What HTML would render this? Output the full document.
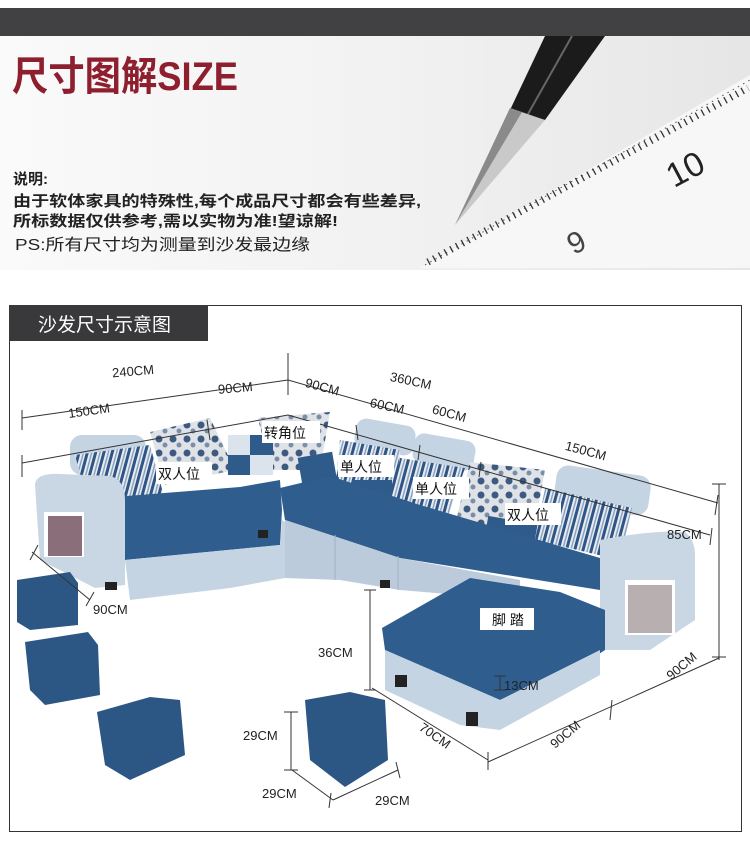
<!DOCTYPE html>
<html><head><meta charset="utf-8"><style>
body{margin:0;width:750px;height:847px;background:#fff;overflow:hidden;font-family:"Liberation Sans","Noto Sans CJK SC",sans-serif;}
svg{display:block}
text{font-family:"Liberation Sans","Noto Sans CJK SC",sans-serif;}
</style></head><body>
<svg width="750" height="847" viewBox="0 0 750 847" xmlns="http://www.w3.org/2000/svg">
<defs>
<linearGradient id="hg" x1="0" y1="0" x2="1" y2="0"><stop offset="0" stop-color="#fafafa"/><stop offset="0.55" stop-color="#f1f1f1"/><stop offset="1" stop-color="#e6e6e6"/></linearGradient>
<pattern id="st" width="8" height="8" patternUnits="userSpaceOnUse" patternTransform="rotate(15)"><rect width="8" height="8" fill="#e8ecf2"/><rect width="3" height="8" fill="#2f5585"/><rect x="5" width="1.5" height="8" fill="#8aa3c0"/></pattern>
<pattern id="fl" width="14" height="14" patternUnits="userSpaceOnUse"><rect width="14" height="14" fill="#dfe3e8"/><circle cx="5" cy="5" r="3.5" fill="#3d5a80"/><circle cx="11" cy="11" r="2.5" fill="#7b8ea8"/></pattern>
</defs>
<rect x="0" y="8" width="750" height="28" fill="#414042"/>
<rect x="0" y="36" width="750" height="234" fill="url(#hg)"/>
<text x="12" y="90" font-size="40" fill="#8e1f2e" font-weight="bold" textLength="226" lengthAdjust="spacingAndGlyphs">尺寸图解SIZE</text>
<text x="13" y="184" font-size="15" fill="#222" font-weight="bold">说明:</text>
<text x="13" y="206" font-size="15" fill="#222" font-weight="bold" textLength="408" lengthAdjust="spacingAndGlyphs">由于软体家具的特殊性,每个成品尺寸都会有些差异,</text>
<text x="13" y="226" font-size="15" fill="#222" font-weight="bold" textLength="325" lengthAdjust="spacingAndGlyphs">所标数据仅供参考,需以实物为准!望谅解!</text>
<text x="15" y="250" font-size="16" fill="#222" textLength="295" lengthAdjust="spacingAndGlyphs">PS:所有尺寸均为测量到沙发最边缘</text>
<!-- ruler -->
<polygon points="420,268 750,75 750,268" fill="#f7f7f7"/>
<line x1="425" y1="265" x2="750" y2="80" stroke="#555" stroke-width="1" stroke-dasharray="1.5,4.5"/>
<line x1="428" y1="262" x2="748" y2="88" stroke="#333" stroke-width="7" stroke-dasharray="1.3,5.2"/>
<text x="665" y="178" font-size="34" fill="#222" transform="rotate(-28 690 165)">10</text>
<text x="565" y="250" font-size="30" fill="#444" transform="rotate(-28 580 235)">9</text>
<!-- pencil -->
<polygon points="545,36 605,36 545,120 510,110" fill="#1b1b1b"/>
<polygon points="510,108 545,120 455,225" fill="#c9c9c9"/>
<polygon points="510,108 522,112 455,225" fill="#8a8a8a"/>
<line x1="572" y1="36" x2="528" y2="114" stroke="#666" stroke-width="2"/>
<!-- box -->
<rect x="9.5" y="305.5" width="732" height="526" fill="none" stroke="#333" stroke-width="1"/>
<rect x="9" y="305" width="199" height="36" fill="#39383a"/>
<text x="38" y="331" font-size="19" fill="#fff">沙发尺寸示意图</text>
<!-- sofa back/pillows -->
<rect x="70" y="435" width="76" height="40" rx="12" fill="#c5d4e3"/>
<rect x="355" y="422" width="60" height="30" rx="10" fill="#c5d4e3" transform="rotate(10 385 437)"/>
<rect x="413" y="437" width="62" height="30" rx="10" fill="#c5d4e3" transform="rotate(10 444 452)"/>
<rect x="555" y="470" width="95" height="40" rx="12" fill="#c5d4e3" transform="rotate(8 600 490)"/>
<polygon points="150,432 210,418 235,470 165,485" fill="url(#fl)"/>
<polygon points="258,418 330,412 320,470 270,470" fill="url(#fl)"/>
<polygon points="470,462 545,470 535,525 455,525" fill="url(#fl)"/>
<polygon points="75,455 150,445 165,500 90,510" fill="url(#st)"/>
<polygon points="340,440 400,450 395,505 335,490" fill="url(#st)"/>
<polygon points="400,458 465,468 445,525 390,505" fill="url(#st)"/>
<polygon points="545,488 632,508 620,560 535,540" fill="url(#st)"/>
<rect x="228" y="435" width="45" height="40" fill="#2f5b8b"/>
<rect x="228" y="435" width="22" height="20" fill="#dbe3ec"/><rect x="250" y="455" width="23" height="20" fill="#dbe3ec"/>
<rect x="300" y="455" width="35" height="30" fill="#2f5b8b" transform="rotate(-10 315 470)"/>
<rect x="352" y="480" width="40" height="30" fill="#2f5b8b"/>
<rect x="485" y="520" width="50" height="35" fill="#2f5b8b" transform="rotate(10 510 537)"/>
<!-- seats -->
<polygon points="115,497 240,487 280,480 282,510 280,545 125,560" fill="#2e5d8e"/>
<polygon points="280,488 330,476 420,505 600,558 600,590 400,558 285,520" fill="#2e5d8e"/>
<!-- base light -->
<polygon points="125,560 280,545 282,520 285,522 285,578 230,588 130,600" fill="#c5d4e3"/>
<polygon points="285,520 400,558 520,580 520,600 400,590 340,580 285,578" fill="#bccbdb"/>
<line x1="335" y1="535" x2="335" y2="580" stroke="#9fb2c6"/>
<line x1="398" y1="556" x2="398" y2="590" stroke="#9fb2c6"/>
<!-- left arm -->
<path d="M35,485 Q35,473 60,474 L110,476 Q125,480 125,500 L125,585 L95,588 L40,560 Z" fill="#c9d7e5"/>
<rect x="44" y="512" width="40" height="45" fill="#fff"/>
<rect x="48" y="516" width="34" height="40" fill="#8a6f7a"/>
<!-- right arm -->
<path d="M600,540 Q650,530 685,532 Q695,540 695,555 L695,620 L650,650 L600,650 Z" fill="#c9d7e5"/>
<rect x="625" y="580" width="50" height="55" fill="#fff"/>
<rect x="628" y="585" width="44" height="48" fill="#b8b0b0"/>
<!-- chaise -->
<polygon points="382,628 470,578 560,592 605,610 605,650 560,680 500,700 385,650" fill="#2e5d8e"/>
<polygon points="385,630 385,690 460,725 500,708 500,700 385,650" fill="#c5d4e3"/>
<polygon points="500,700 600,650 600,675 500,730 460,725" fill="#c5d4e3"/>
<rect x="395" y="675" width="12" height="12" fill="#222"/>
<rect x="466" y="712" width="12" height="14" fill="#222"/>
<rect x="105" y="582" width="12" height="8" fill="#222"/>
<rect x="258" y="530" width="10" height="8" fill="#222"/>
<rect x="380" y="580" width="10" height="8" fill="#222"/>
<!-- ottomans -->
<polygon points="17,580 70,572 78,583 78,625 30,630 17,622" fill="#2c5784"/>
<polygon points="25,642 88,632 98,645 100,695 45,705 30,690" fill="#2c5784"/>
<polygon points="97,712 150,697 180,700 185,755 130,780 105,765" fill="#2c5784"/>
<polygon points="305,700 350,692 385,700 388,760 345,787 310,760" fill="#2c5784"/>
<!-- dimension lines -->
<g stroke="#333" stroke-width="1" fill="none">
<line x1="22" y1="418" x2="288" y2="380"/><line x1="22" y1="410" x2="22" y2="430"/><line x1="288" y1="353" x2="288" y2="395"/>
<line x1="22" y1="463" x2="288" y2="415"/><line x1="22" y1="455" x2="22" y2="477"/><line x1="207" y1="420" x2="210" y2="440"/>
<line x1="288" y1="380" x2="718" y2="503"/><line x1="718" y1="495" x2="715" y2="515"/>
<line x1="288" y1="415" x2="710" y2="535"/><line x1="356" y1="425" x2="358" y2="440"/><line x1="420" y1="445" x2="418" y2="460"/><line x1="481" y1="462" x2="479" y2="477"/><line x1="712" y1="528" x2="710" y2="545"/>
<line x1="719" y1="484" x2="719" y2="660"/><line x1="712" y1="484" x2="726" y2="484"/><line x1="712" y1="657" x2="726" y2="657"/>
<line x1="719" y1="658" x2="488" y2="762"/>
<line x1="612" y1="700" x2="610" y2="720"/>
<line x1="32" y1="552" x2="90" y2="600"/><line x1="30" y1="560" x2="38" y2="545"/><line x1="86" y1="606" x2="94" y2="592"/>
<line x1="370" y1="590" x2="370" y2="690"/><line x1="364" y1="590" x2="376" y2="590"/><line x1="364" y1="690" x2="376" y2="690"/>
<line x1="372" y1="688" x2="488" y2="760"/>
<line x1="488" y1="752" x2="488" y2="770"/>
<line x1="500" y1="676" x2="500" y2="690"/><line x1="494" y1="676" x2="506" y2="676"/><line x1="494" y1="690" x2="506" y2="690"/>
<line x1="291" y1="712" x2="291" y2="770"/><line x1="284" y1="712" x2="298" y2="712"/><line x1="284" y1="770" x2="298" y2="770"/>
<line x1="292" y1="770" x2="333" y2="800"/><line x1="333" y1="800" x2="398" y2="770"/><line x1="331" y1="793" x2="329" y2="808"/><line x1="396" y1="762" x2="400" y2="778"/>
</g>
<g font-size="13" fill="#222">
<text x="112" y="375" transform="rotate(-5 140 370)">240CM</text>
<text x="218" y="392" transform="rotate(-5 240 388)">90CM</text>
<text x="68" y="415" transform="rotate(-8 90 410)">150CM</text>
<text x="390" y="385" transform="rotate(12 410 380)">360CM</text>
<text x="305" y="392" transform="rotate(15 325 387)">90CM</text>
<text x="370" y="410" transform="rotate(12 385 405)">60CM</text>
<text x="432" y="418" transform="rotate(15 450 413)">60CM</text>
<text x="565" y="455" transform="rotate(15 585 450)">150CM</text>
<text x="667" y="539">85CM</text>
<text x="93" y="614">90CM</text>
<text x="318" y="657">36CM</text>
<text x="504" y="690">13CM</text>
<text x="660" y="670" transform="rotate(-40 680 660)">90CM</text>
<text x="545" y="738" transform="rotate(-40 565 730)">90CM</text>
<text x="418" y="740" transform="rotate(35 435 735)">70CM</text>
<text x="243" y="740">29CM</text>
<text x="262" y="798">29CM</text>
<text x="375" y="805">29CM</text>
</g>
<g font-size="14" fill="#111">
<rect x="156" y="462" width="56" height="22" fill="#fff"/><text x="158" y="479">双人位</text>
<rect x="262" y="421" width="58" height="22" fill="#fff"/><text x="264" y="438">转角位</text>
<rect x="338" y="455" width="56" height="22" fill="#fff"/><text x="340" y="472">单人位</text>
<rect x="413" y="477" width="56" height="22" fill="#fff"/><text x="415" y="494">单人位</text>
<rect x="505" y="503" width="56" height="22" fill="#fff"/><text x="507" y="520">双人位</text>
<rect x="480" y="608" width="54" height="22" fill="#fff"/><text x="492" y="625">脚 踏</text>
</g>
</svg>
</body></html>
